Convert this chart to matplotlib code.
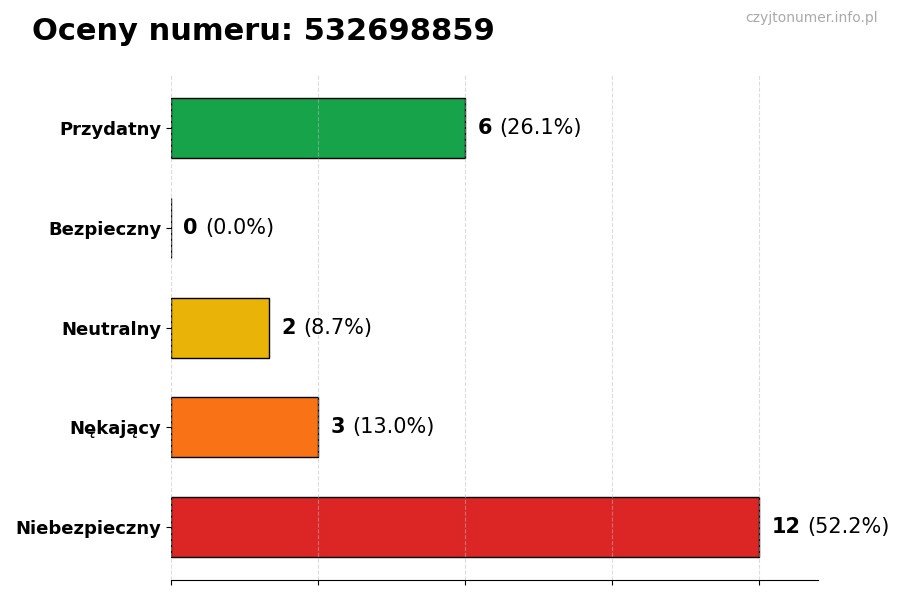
import numpy as np
import matplotlib.pyplot as plt

categories = ['Przydatny', 'Bezpieczny', 'Neutralny', 'Nękający', 'Niebezpieczny']
counts = [6, 0, 2, 3, 12]
colors = ['#16a34a', '#2563eb', '#eab308', '#f97316', '#dc2626']

total = sum(counts)
y = np.arange(len(categories))

fig, ax = plt.subplots(figsize=(9, 6), dpi=100)
fig.subplots_adjust(left=0.19, right=0.909, top=0.875, bottom=0.033)

ax.barh(y, counts, height=0.6, color=colors, edgecolor='black', linewidth=1, zorder=2)
ax.invert_yaxis()
ax.set_xlim(0, max(counts) * 1.1)
ax.set_xticks(np.arange(0, max(counts) + 1, 3))
ax.set_xticklabels([])
ax.set_yticks(y)
ax.set_yticklabels(categories, fontsize=13, fontweight='bold')
ax.grid(axis='x', linestyle='--', color='#bbbbbb', alpha=0.5, zorder=3)
ax.set_axisbelow(False)

for s in ['top', 'right', 'left']:
    ax.spines[s].set_visible(False)

# liczba pogrubiona + procent zwykłym krojem
for yi, c in zip(y, counts):
    pct = c / total * 100
    t = ax.annotate(str(c), xy=(c, yi), xytext=(9, 0), textcoords='offset points',
                    ha='left', va='center', fontsize=15, fontweight='bold')
    ax.annotate(f'({pct:.1f}%)', xy=(1, 0.5), xycoords=t, xytext=(5, 0),
                textcoords='offset points', ha='left', va='center', fontsize=15)

fig.text(0.035, 0.947, 'Oceny numeru: 532698859', fontsize=22, fontweight='bold',
         ha='left', va='center')
fig.text(0.975, 0.97, 'czyjtonumer.info.pl', fontsize=10, color='#aaaaaa',
         ha='right', va='center')

fig.savefig('out.png')
